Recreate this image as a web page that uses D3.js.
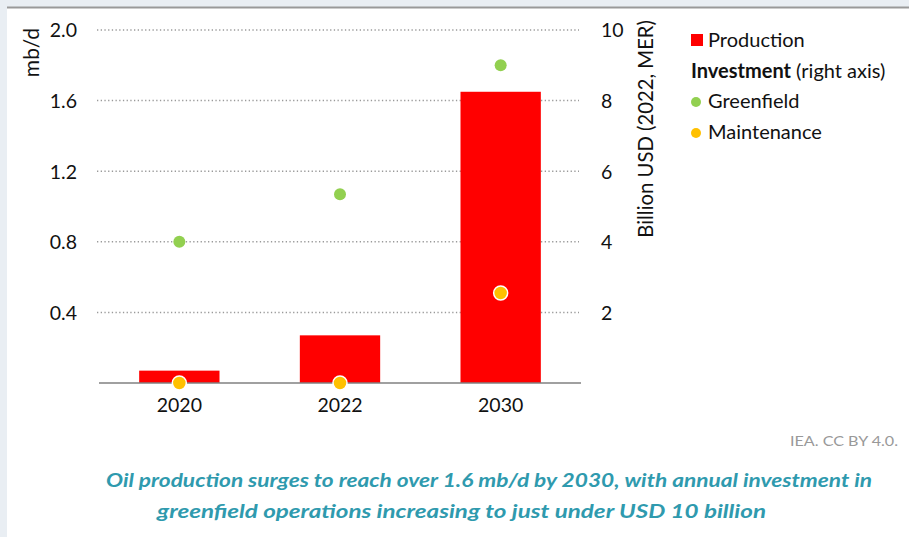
<!DOCTYPE html>
<html><head><meta charset="utf-8">
<script src="https://cdn.jsdelivr.net/npm/d3@7"></script>
<style>body{margin:0;background:#fff}svg{display:block}</style>
</head><body><svg id="c" width="909" height="537"></svg>
<script>
const categories = ["2020","2022","2030"];
const production = [0.07, 0.27, 1.65];
const greenfield = [4.0, 5.35, 9.0];
const maintenance = [0.0, 0.0, 2.55];
const leftTicks = [0.4, 0.8, 1.2, 1.6, 2.0];
const rightTicks = [2, 4, 6, 8, 10];

const svg = d3.select("#c");
const F = "Lato, 'Open Sans', sans-serif";
// frame
svg.append("rect").attr("width",909).attr("height",537).attr("fill","#e9eef3");
svg.append("rect").attr("x",7).attr("y",8).attr("width",902).attr("height",529).attr("fill","#fff");
svg.append("line").attr("x1",7).attr("x2",909).attr("y1",7.5).attr("y2",7.5).attr("stroke","#999").attr("stroke-width",2);

const x = d3.scaleBand().domain(categories).range([99,581]).paddingInner(0.5).paddingOuter(0.25);
const yL = d3.scaleLinear().domain([0,2]).range([383,30]);
const yR = d3.scaleLinear().domain([0,10]).range([383,30]);

// gridlines
const g = svg.append("g");
g.selectAll("line.grid").data(leftTicks).join("line")
 .attr("x1",97).attr("x2",579).attr("y1",d=>yL(d)).attr("y2",d=>yL(d))
 .attr("stroke","#9a9a9a").attr("stroke-width",1.5).attr("stroke-dasharray","1.3,2.4");

// left axis labels
const axL = d3.axisLeft(yL).tickValues(leftTicks).tickSize(0).tickPadding(0).tickFormat(d3.format(".1f"));
const gL = svg.append("g").attr("transform","translate(77,0)").call(axL);
gL.select(".domain").remove();
gL.selectAll("text").attr("font-family",F).attr("font-size",19.5).attr("fill","#111").attr("dy","0.35em");

// right axis labels
const axR = d3.axisRight(yR).tickValues(rightTicks).tickSize(0).tickPadding(0);
const gR = svg.append("g").attr("transform","translate(601,0)").call(axR);
gR.select(".domain").remove();
gR.selectAll("text").attr("font-family",F).attr("font-size",19.5).attr("fill","#111").attr("dy","0.35em");

// bars
svg.selectAll("rect.bar").data(categories).join("rect")
 .attr("x",d=>x(d)).attr("width",x.bandwidth())
 .attr("y",(d,i)=>yL(production[i])).attr("height",(d,i)=>yL(0)-yL(production[i]))
 .attr("fill","#ff0000");

// baseline
svg.append("line").attr("x1",99).attr("x2",581).attr("y1",yL(0)).attr("y2",yL(0))
 .attr("stroke","#808080").attr("stroke-width",1.5);

// x axis labels
const axX = d3.axisBottom(x).tickSize(0).tickPadding(0);
const gX = svg.append("g").attr("transform","translate(0,398)").call(axX);
gX.select(".domain").remove();
gX.selectAll("text").attr("font-family",F).attr("font-size",19.5).attr("fill","#111").attr("dy","0.71em");

// dots
svg.selectAll("circle.gf").data(categories).join("circle")
 .attr("cx",d=>x(d)+x.bandwidth()/2).attr("cy",(d,i)=>yR(greenfield[i])).attr("r",6)
 .attr("fill","#92d050");
svg.selectAll("circle.mt").data(categories).join("circle")
 .attr("cx",d=>x(d)+x.bandwidth()/2).attr("cy",(d,i)=>yR(maintenance[i])).attr("r",7)
 .attr("fill","#ffc000").attr("stroke","#fff").attr("stroke-width",1.5);

// axis titles
svg.append("text").attr("transform","translate(39,28) rotate(-90)").attr("text-anchor","end")
 .attr("font-family",F).attr("font-size",21).attr("fill","#111").text("mb/d");
svg.append("text").attr("transform","translate(653,20) rotate(-90)").attr("text-anchor","end")
 .attr("font-family",F).attr("font-size",20.3).attr("fill","#111").text("Billion USD (2022, MER)");

// legend
const lg = svg.append("g").attr("font-family",F).attr("font-size",20).attr("fill","#111");
lg.append("rect").attr("x",691).attr("y",34).attr("width",12).attr("height",12).attr("fill","#ff0000");
lg.append("text").attr("x",708).attr("y",47).text("Production");
const inv = lg.append("text").attr("x",691).attr("y",78);
inv.append("tspan").attr("font-weight","bold").text("Investment");
inv.append("tspan").text(" (right axis)");
lg.append("circle").attr("cx",696).attr("cy",102).attr("r",5).attr("fill","#92d050");
lg.append("text").attr("x",708).attr("y",108).text("Greenfield");
lg.append("circle").attr("cx",696).attr("cy",133).attr("r",5).attr("fill","#ffc000");
lg.append("text").attr("x",708).attr("y",139).text("Maintenance");

// source
svg.append("text").attr("x",898).attr("y",446).attr("text-anchor","end")
 .attr("textLength",108).attr("lengthAdjust","spacingAndGlyphs")
 .attr("font-family",F).attr("font-size",14).attr("fill","#999").text("IEA. CC BY 4.0.");

// caption
const cap = ["Oil production surges to reach over 1.6 mb/d by 2030, with annual investment in",
             "greenfield operations increasing to just under USD 10 billion"];
const capX = [106, 157], capW = [766, 609], capY = [487, 518];
svg.selectAll("text.cap").data(cap).join("text")
 .attr("x",(d,i)=>capX[i]).attr("y",(d,i)=>capY[i])
 .attr("textLength",(d,i)=>capW[i]).attr("lengthAdjust","spacingAndGlyphs")
 .attr("font-family",F).attr("font-size",19).attr("font-weight","bold").attr("font-style","italic")
 .attr("fill","#2f9aae").text(d=>d);
</script></body></html>
